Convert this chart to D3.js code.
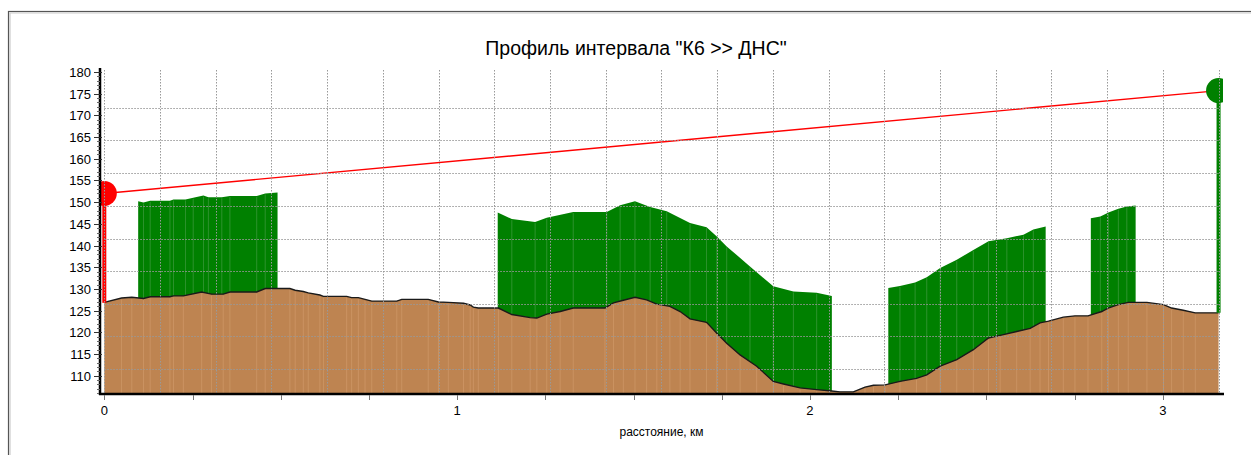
<!DOCTYPE html>
<html><head><meta charset="utf-8">
<script src="https://cdn.jsdelivr.net/npm/d3@7"></script>
<style>
body{margin:0;background:#fff}
svg{display:block}
text{font-family:Arial,"Liberation Sans",sans-serif;fill:#000}
</style>
</head><body>
<svg id="chart" width="1251" height="455"></svg>
<script>
const chartTitle = 'Профиль интервала "К6 >> ДНС"';
const xAxisTitle = 'расстояние, км';

const terrainKm = [0.000,0.049,0.078,0.111,0.130,0.186,0.196,0.224,0.276,0.304,0.337,0.356,0.432,0.456,0.526,0.541,0.564,0.578,0.611,0.621,0.687,0.701,0.720,0.739,0.758,0.829,0.843,0.918,0.947,0.975,1.018,1.037,1.046,1.060,1.117,1.155,1.207,1.226,1.254,1.292,1.329,1.419,1.443,1.471,1.504,1.537,1.566,1.603,1.632,1.660,1.707,1.736,1.764,1.802,1.849,1.896,1.925,1.972,2.019,2.062,2.085,2.123,2.156,2.180,2.213,2.255,2.302,2.331,2.369,2.416,2.463,2.506,2.539,2.586,2.624,2.652,2.676,2.718,2.751,2.788,2.827,2.845,2.874,2.902,2.955,3.002,3.025,3.058,3.092,3.158];
const terrainElev = [126.9,127.9,128.1,127.8,128.2,128.2,128.4,128.4,129.3,128.8,128.8,129.3,129.3,130.1,130.1,129.7,129.4,129.1,128.6,128.3,128.3,128.0,128.0,127.6,127.2,127.2,127.6,127.6,127.0,126.9,126.7,126.3,125.8,125.6,125.6,124.1,123.4,123.3,124.2,124.8,125.6,125.6,126.8,127.4,128.1,127.5,126.5,126.0,124.8,123.1,122.3,119.8,117.5,114.8,112.2,108.7,108.1,107.2,106.8,106.5,106.3,106.3,107.4,107.8,107.9,108.7,109.4,110.2,112.2,113.7,116.0,118.7,119.3,120.2,120.9,122.2,122.6,123.5,123.8,123.8,124.8,125.6,126.4,126.9,126.9,126.4,125.6,125.1,124.5,124.5];

const forest1Km  = [0.096,0.111,0.130,0.186,0.196,0.230,0.252,0.281,0.295,0.333,0.356,0.432,0.456,0.491];
const forest1Top = [150.2,149.9,150.3,150.3,150.6,150.6,151.0,151.5,151.1,151.1,151.4,151.4,152.0,152.2];
const forest2Km  = [1.115,1.155,1.221,1.254,1.329,1.424,1.462,1.504,1.547,1.594,1.660,1.707,1.736,1.764,1.830,1.896,1.953,2.019,2.062];
const forest2Top = [147.6,146.1,145.4,146.4,147.7,147.7,149.3,150.2,148.9,147.9,145.2,144.2,142.1,139.8,135.2,130.6,129.4,129.1,128.4];
const forest3Km  = [2.222,2.255,2.298,2.331,2.369,2.416,2.463,2.506,2.558,2.605,2.633,2.668];
const forest3Top = [130.2,130.7,131.5,132.7,134.8,136.7,139.0,141.0,141.7,142.5,143.7,144.4];
const forest4Km  = [2.796,2.823,2.846,2.874,2.898,2.923];
const forest4Top = [146.3,146.7,147.6,148.5,149.0,149.2];

const startSite = {km: 0.000, ground: 126.8, antenna: 152.0};
const endSite   = {km: 3.158, ground: 124.5, antenna: 175.7};

const yTickValues = [110,115,120,125,130,135,140,145,150,155,160,165,170,175,180];
const xTickLabels = [0,1,2,3];
const xMinorTicks = [0,0.25,0.5,0.75,1,1.25,1.5,1.75,2,2.25,2.5,2.75,3];
const hGridValues = [171.7,164.2,156.7,149.2,141.6,134.1,126.6,119.1,111.6];
const vGridCount = 20;
const vGridStepKm = 3/19;

const svg = d3.select('#chart');
const X0 = 100, X1 = 1223, Y0 = 68, Y1 = 394;
const x = d3.scaleLinear().domain([-0.0122, 3.1706]).range([X0, X1]);
const y = d3.scaleLinear().domain([105.8, 180.9]).range([Y1, Y0]);

// frame
svg.append('rect').attr('x',8.5).attr('y',11.5).attr('width',1400).attr('height',600)
  .attr('fill','none').attr('stroke','#555').attr('stroke-width',1.2);
svg.append('line').attr('x1',9.5).attr('x2',1251).attr('y1',13).attr('y2',13).attr('stroke','#ccc').attr('stroke-width',1.2);
svg.append('line').attr('x1',10).attr('x2',10).attr('y1',13).attr('y2',455).attr('stroke','#ccc').attr('stroke-width',1.2);

svg.append('defs').append('clipPath').attr('id','plotclip')
  .append('rect').attr('x',X0).attr('y',Y0).attr('width',X1-X0).attr('height',Y1-Y0);
const plot = svg.append('g').attr('clip-path','url(#plotclip)');

// forests (green): from top down to base, then terrain covers below
const forests = [[forest1Km,forest1Top],[forest2Km,forest2Top],[forest3Km,forest3Top],[forest4Km,forest4Top]];
const fArea = d3.area().x(d=>x(d[0])).y0(y(105.8)).y1(d=>y(d[1]));
forests.forEach(([ks,ts])=>{
  const pts = ks.map((k,i)=>[k,ts[i]]);
  plot.append('path').datum(pts).attr('d',fArea).attr('fill','#008000');
  plot.selectAll(null).data(pts.slice(1,-1)).enter().append('line')
    .attr('x1',d=>x(d[0])).attr('x2',d=>x(d[0]))
    .attr('y1',d=>y(d[1])+1).attr('y2',Y1)
    .attr('stroke','#5fa85f').attr('stroke-width',0.8).attr('opacity',0.6);
});

// terrain
const tPts = terrainKm.map((k,i)=>[k,terrainElev[i]]);
plot.append('path').datum(tPts)
  .attr('d', d3.area().x(d=>x(d[0])).y0(Y1).y1(d=>y(d[1])))
  .attr('fill','#be8451');
plot.selectAll(null).data(tPts.slice(1,-1)).enter().append('line')
  .attr('x1',d=>x(d[0])).attr('x2',d=>x(d[0]))
  .attr('y1',d=>y(d[1])+1.5).attr('y2',Y1)
  .attr('stroke','#d6a070').attr('stroke-width',0.8).attr('opacity',0.7);
plot.append('path').datum(tPts)
  .attr('d', d3.line().x(d=>x(d[0])).y(d=>y(d[1])))
  .attr('fill','none').attr('stroke','#1a1a1a').attr('stroke-width',1.4);

// grid
const gridG = svg.append('g');
hGridValues.forEach(v=>{
  gridG.append('line').attr('x1',x(0)).attr('x2',x(endSite.km))
    .attr('y1',Math.round(y(v))+0.5).attr('y2',Math.round(y(v))+0.5)
    .attr('stroke','#999').attr('stroke-width',1).attr('stroke-dasharray','1.5,1.5');
});
for(let i=0;i<=vGridCount;i++){
  const px = Math.round(x(i*vGridStepKm))+0.5;
  gridG.append('line').attr('x1',px).attr('x2',px).attr('y1',70).attr('y2',Y1)
    .attr('stroke','#999').attr('stroke-width',1).attr('stroke-dasharray','1.5,1.5');
}

// path line
plot.append('line').attr('x1',x(startSite.km)).attr('y1',y(startSite.antenna))
  .attr('x2',x(endSite.km)).attr('y2',y(endSite.antenna))
  .attr('stroke','#ff0000').attr('stroke-width',1.4);

// masts
plot.append('line').attr('x1',x(startSite.km)).attr('x2',x(startSite.km))
  .attr('y1',y(startSite.ground)).attr('y2',y(startSite.antenna))
  .attr('stroke','#ff0000').attr('stroke-width',4);
plot.append('circle').attr('cx',x(startSite.km)).attr('cy',y(startSite.antenna)).attr('r',12.5).attr('fill','#ff0000');
plot.append('line').attr('x1',x(endSite.km)).attr('x2',x(endSite.km))
  .attr('y1',y(endSite.ground)).attr('y2',y(endSite.antenna))
  .attr('stroke','#008000').attr('stroke-width',4);
plot.append('circle').attr('cx',x(endSite.km)).attr('cy',y(endSite.antenna)).attr('r',12.5).attr('fill','#008000');

// Y axis
const yAx = svg.append('g');
yAx.append('line').attr('x1',X0).attr('x2',X0).attr('y1',Y0).attr('y2',Y1+1).attr('stroke','#000').attr('stroke-width',2.5);
for(let v=106; v<=180; v++){
  yAx.append('line').attr('x1',X0-3).attr('x2',X0).attr('y1',Math.round(y(v))+0.5).attr('y2',Math.round(y(v))+0.5)
    .attr('stroke','#666').attr('stroke-width',1);
}
yTickValues.forEach(v=>{
  const py = Math.round(y(v))+0.5;
  yAx.append('line').attr('x1',X0-6).attr('x2',X0+2).attr('y1',py).attr('y2',py).attr('stroke','#333').attr('stroke-width',1);
  yAx.append('text').attr('x',X0-9).attr('y',py).attr('dy','0.35em').attr('text-anchor','end')
    .attr('font-size',13).text(v);
});

// X axis
const xAx = svg.append('g');
xAx.append('line').attr('x1',X0-1).attr('x2',X1+1).attr('y1',Y1).attr('y2',Y1).attr('stroke','#000').attr('stroke-width',2.5);
xMinorTicks.forEach(k=>{
  const px = Math.round(x(k))+0.5;
  xAx.append('line').attr('x1',px).attr('x2',px).attr('y1',Y1+1).attr('y2',Y1+6).attr('stroke','#777').attr('stroke-width',1);
});
xTickLabels.forEach(k=>{
  xAx.append('text').attr('x',x(k)).attr('y',415).attr('text-anchor','middle').attr('font-size',13).text(k);
});
svg.append('text').attr('x',(X0+X1)/2).attr('y',436).attr('text-anchor','middle').attr('font-size',12).text(xAxisTitle);

// title
svg.append('text').attr('x',636).attr('y',55).attr('text-anchor','middle').attr('font-size',19.5).text(chartTitle);
</script>
</body></html>
